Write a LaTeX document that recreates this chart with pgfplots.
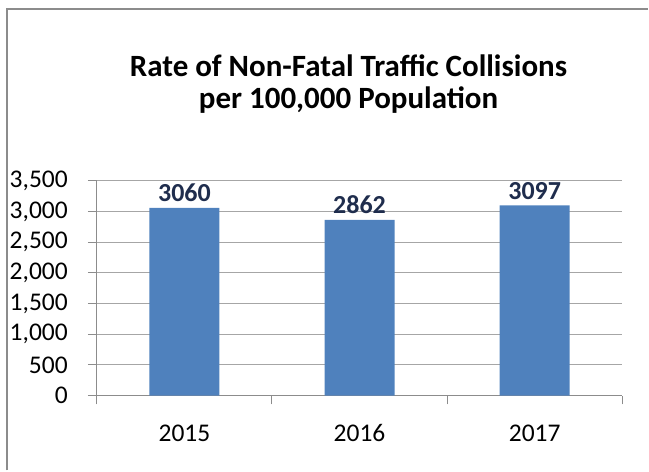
\documentclass[border=0pt]{standalone}
\usepackage{fontspec}
\setmainfont{Carlito}
\usepackage{pgfplots}
\pgfplotsset{compat=1.18}
\definecolor{barblue}{HTML}{4F81BD}
\definecolor{lblnavy}{HTML}{1F2D4D}
\definecolor{gridgray}{HTML}{A6A6A6}
\definecolor{axisgray}{HTML}{8C8C8C}
\begin{document}
\begin{tikzpicture}
\begin{axis}[
  scale only axis, width=526bp, height=215bp,
  xmin=-0.5, xmax=2.5, ymin=0, ymax=3500,
  ytick={0,500,...,3500},
  xtick={-0.5,0.5,1.5,2.5},
  xticklabels={},
  extra x ticks={0,1,2},
  extra x tick labels={2015,2016,2017},
  extra x tick style={major tick length=0pt, grid=none},
  ymajorgrids, grid style={gridgray, line width=1bp},
  axis x line*=bottom, axis y line*=left,
  axis line style={axisgray, line width=1bp},
  every tick/.style={axisgray, line width=1bp},
  tick align=outside, major tick length=9bp,
  tick label style={font=\fontsize{25.5bp}{31bp}\selectfont},
  /pgf/number format/assume math mode=true,
  /pgf/number format/1000 sep={,},
  yticklabel style={inner sep=0pt, xshift=-20bp},
  xticklabel style={inner sep=0pt, text height=17bp, text depth=0pt, yshift=-29bp},
  ybar, bar width=70bp,
  nodes near coords,
  every node near coord/.append style={font=\fontsize{26bp}{31bp}\selectfont\bfseries, color=lblnavy, /pgf/number format/assume math mode=true, /pgf/number format/1000 sep={}, inner sep=0pt, anchor=south, yshift=6bp},
  clip=false,
]
\addplot[fill=barblue, draw=none] coordinates {(0,3060) (1,2862) (2,3097)};
\path (axis description cs:-0.18441,-0.34884) rectangle (axis description cs:1.04943,1.84186);
\draw[axisgray, line width=1.6bp] (axis description cs:-0.17110,-0.34884) -- (axis description cs:-0.17110,1.8) -- (axis description cs:1.04943,1.8);
\node[font=\fontsize{31bp}{32bp}\selectfont\bfseries, align=center, anchor=center] at (axis description cs:0.479,1.45) {Rate of Non-Fatal Traffic Collisions\\per 100,000 Population};
\end{axis}
\end{tikzpicture}
\end{document}
